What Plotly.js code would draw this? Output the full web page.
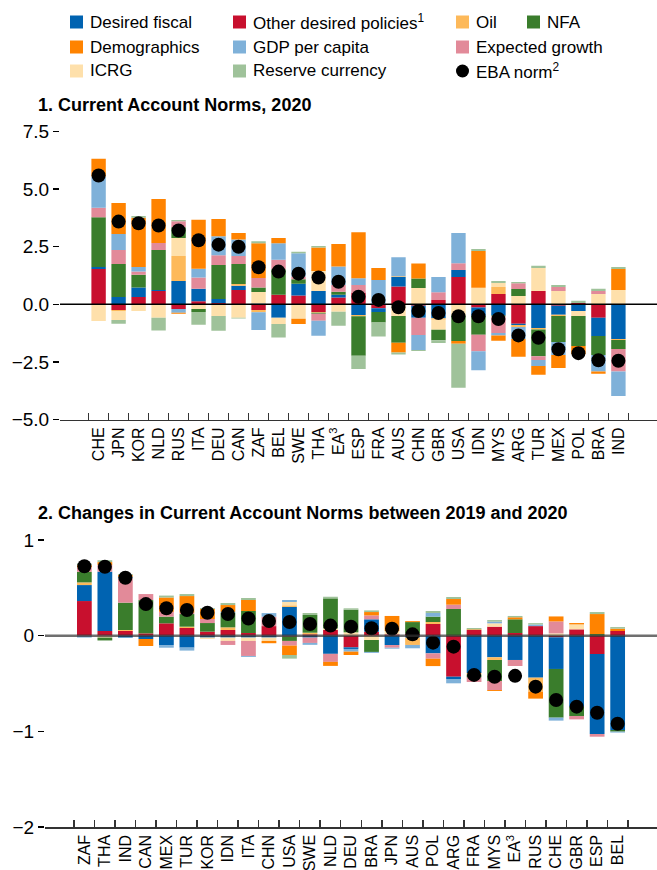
<!DOCTYPE html>
<html>
<head>
<meta charset="utf-8">
<script src="https://cdn.plot.ly/plotly-3.0.1.min.js"></script>
<style>html,body{margin:0;padding:0;background:#fff;}#chart{width:657px;height:870px;}</style>
</head>
<body>
<div id="chart"></div>
<script>
// ---------- Panel 1: Current Account Norms, 2020 ----------
const countries1 = ['CHE','JPN','KOR','NLD','RUS','ITA','DEU','CAN','ZAF','BEL','SWE','THA','EA<sup>3</sup>','ESP','FRA','AUS','CHN','GBR','USA','IDN','MYS','ARG','TUR','MEX','POL','BRA','IND'];
const other1  = [1.53,-0.25,0.32,0.58,-0.20,0.13,0.06,0.62,-0.25,0.41,0.38,-0.33,0.29,0.51,-0.17,0.77,-0.06,0.19,1.19,-0.14,0.45,-0.84,0.58,-0.06,0.06,-0.58,0];
const fiscal1 = [0.09,0.32,0.41,0.04,1.01,0.54,0.17,0.19,0.04,-0.58,0.51,0.58,0.12,-0.46,-0.16,0.41,-0.52,-0.61,0.30,-0.36,-0.49,-0.06,-1.03,-0.39,-0.29,-0.80,-1.51];
const oil1    = [0,-0.04,0,0,1.09,0,0,0.07,-0.09,0,0,-0.04,0,-0.06,0,0.04,0,-0.06,0,0,0.30,-0.09,-0.06,-0.06,0,0,-0.04];
const icrg1   = [-0.72,-0.39,-0.29,-0.58,0.78,-0.20,-0.51,-0.58,0.49,-0.27,-0.63,0.87,-0.32,0,0,-0.51,0.71,-0.43,-0.49,0.72,0.17,0.36,1.00,0.58,-0.22,0.45,0.62];
const nfa1    = [2.16,1.43,0.55,1.74,0.46,-0.13,1.48,0.87,0.20,1.11,0.20,-0.04,0.14,-1.71,-0.46,-1.16,0.41,-0.46,-1.10,-0.82,-0.04,0.30,-1.16,-1.13,-1.30,-0.82,-0.39];
const eg1     = [0.41,0.61,0.14,0.30,0.26,0.49,0.42,0.35,0.41,0.41,0.12,-0.30,0.29,0.33,0,0,-0.75,0.33,0.29,-0.72,-0.72,0.25,-0.17,0.17,0,0.13,-0.98];
const gdp1    = [1.36,0.69,0.20,0,-0.17,0.38,0.82,0.71,-0.78,0.72,1.01,-0.65,0.80,0.29,1.06,0.82,-0.65,0.67,1.32,-0.82,-0.10,-0.52,-0.26,-0.56,0,-0.72,-1.06];
const demo1   = [0.77,1.35,2.14,1.91,-0.04,2.13,0.75,0.29,1.51,0.23,-0.22,1.01,0.98,2.00,0.52,-0.42,0.65,0,-0.12,1.59,-0.23,-0.77,-0.38,-0.56,-0.36,-0.09,0.91];
const res1    = [0,-0.16,0.07,-0.56,0.06,-0.56,-0.64,-0.04,0.09,-0.59,0.06,0.07,-0.61,-0.58,-0.61,-0.09,-0.05,-0.12,-1.91,0.09,0.09,0.06,0.09,0.09,0.09,0.09,0.09];
const eba1    = [5.59,3.59,3.52,3.42,3.20,2.78,2.59,2.50,1.61,1.42,1.33,1.16,0.98,0.33,0.19,-0.13,-0.29,-0.38,-0.52,-0.52,-0.64,-1.35,-1.45,-1.95,-2.12,-2.43,-2.45];

// ---------- Panel 2: Changes between 2019 and 2020 ----------
const countries2 = ['ZAF','THA','IND','CAN','MEX','TUR','KOR','IDN','ITA','CHN','USA','SWE','NLD','DEU','BRA','JPN','AUS','POL','ARG','FRA','MYS','EA<sup>3</sup>','RUS','CHE','GBR','ESP','BEL'];
const other2  = [0.362,0.049,0.049,0.024,0.129,0.08,0.042,0.059,0.028,0.10,-0.01,0.014,0.059,-0.122,0.042,0.014,0.02,0.122,-0.429,0.059,0.094,0.028,0.10,-0.017,0.066,-0.192,0.049];
const fiscal2 = [0.167,0.62,-0.02,-0.035,-0.098,-0.125,-0.02,-0.02,-0.02,-0.02,0.30,-0.02,-0.19,-0.017,0.129,-0.098,-0.02,-0.185,-0.024,-0.39,-0.226,-0.254,-0.439,-0.331,-0.742,-0.836,-0.986];
const oil2    = [0.028,0,0.01,0,0,0.014,0,0.028,0,0,0.017,0.017,0,0,0,0,-0.077,0.021,0,-0.017,-0.028,0,-0.146,0,0,0,0];
const icrg2   = [0,-0.02,0,0,0,0,-0.014,-0.035,-0.035,-0.035,0.035,0,0.017,0.035,-0.045,0.035,0,0,0,0,0.035,0,0,0.024,0.052,0,0];
const nfa2    = [0.111,-0.03,0.286,0.348,0.07,0.132,0.09,0.153,0.23,0,-0.045,0.185,0.314,0.237,-0.125,0,0.122,0.056,0.279,-0.028,-0.22,0.143,0,-0.509,-0.098,0.017,-0.017];
const eg2     = [0.045,0.07,0.254,0.063,0.05,0.014,0.042,-0.042,-0.157,0.098,-0.049,-0.056,-0.084,0,0.041,-0.028,0,-0.056,0.045,-0.049,-0.094,-0.063,0,0.125,-0.035,-0.028,0];
const gdp2    = [-0.02,0,0.017,0,-0.028,-0.031,0,0.01,-0.01,0.038,0.021,-0.02,0,-0.028,-0.01,-0.01,-0.035,0.038,-0.045,0,0.017,0,0.017,-0.031,0,0,-0.01];
const demo2   = [0.024,0.03,0.017,-0.073,0.15,0.174,0.105,0.07,0.115,-0.024,-0.098,0,-0.042,-0.035,0.035,0.157,0.01,-0.077,0.059,0.007,-0.01,0.021,-0.073,0.052,0.014,0.209,0.024];
const res2    = [0.017,0.02,0.01,0,0.02,0.021,0.01,0.021,0.021,0,-0.038,0.021,0.017,0.014,0.017,0,0,0.021,0.021,0.014,0.017,0.014,0.014,0,0,0.021,0.017];
const eba2    = [0.725,0.72,0.606,0.33,0.286,0.268,0.24,0.226,0.18,0.153,0.143,0.122,0.105,0.094,0.077,0.073,0.014,-0.073,-0.115,-0.41,-0.43,-0.42,-0.533,-0.672,-0.742,-0.805,-0.92];

// ---------- Series names & colours ----------
const seriesNames = ['Other desired policies','Desired fiscal','Oil','ICRG','NFA','Expected growth','GDP per capita','Demographics','Reserve currency'];
const seriesColors = ['#c8102e','#0063b1','#fdb95a','#fee0ab','#3a7d2c','#e28a99','#7fb1d9','#ff8300','#9fc29a'];
const panel1 = [other1,fiscal1,oil1,icrg1,nfa1,eg1,gdp1,demo1,res1];
const panel2 = [other2,fiscal2,oil2,icrg2,nfa2,eg2,gdp2,demo2,res2];

const W = 657, H = 870;
const px = x => x / W;
const py = y => 1 - y / H;
const F = 'Liberation Sans, Arial, Helvetica, sans-serif';

const traces = [];
panel1.forEach((vals, i) => traces.push({type:'bar', x:countries1, y:vals, name:seriesNames[i], marker:{color:seriesColors[i], line:{width:0}}, xaxis:'x', yaxis:'y', hoverinfo:'skip'}));
panel2.forEach((vals, i) => traces.push({type:'bar', x:countries2, y:vals, name:seriesNames[i], marker:{color:seriesColors[i], line:{width:0}}, xaxis:'x2', yaxis:'y2', hoverinfo:'skip'}));
traces.push({type:'scatter', mode:'markers', x:countries1, y:eba1, name:'EBA norm', marker:{color:'#000', size:14}, xaxis:'x', yaxis:'y', hoverinfo:'skip'});
traces.push({type:'scatter', mode:'markers', x:countries2, y:eba2, name:'EBA norm', marker:{color:'#000', size:14}, xaxis:'x2', yaxis:'y2', hoverinfo:'skip'});

const xBase = {type:'category', tickangle:-90, tickson:'boundaries', ticks:'inside', ticklen:7, tickwidth:1.5, tickcolor:'#333',
  showline:true, linecolor:'#333', linewidth:1.5, showgrid:false, zeroline:false, tickfont:{size:16, family:F, color:'#000'}};
const yBase = {ticks:'outside', ticklen:6, tickwidth:1.5, tickcolor:'#000', showgrid:false, zeroline:false, showline:false, tickfont:{size:19, family:F, color:'#000'}};

// ---------- Legend (custom) ----------
const legendItems = [
  {t:'Desired fiscal', c:'#0063b1', x:70, y:22},
  {t:'Other desired policies<sup>1</sup>', c:'#c8102e', x:233, y:22},
  {t:'Oil', c:'#fdb95a', x:456, y:22},
  {t:'NFA', c:'#3a7d2c', x:527, y:22},
  {t:'Demographics', c:'#ff8300', x:70, y:47},
  {t:'GDP per capita', c:'#7fb1d9', x:233, y:47},
  {t:'Expected growth', c:'#e28a99', x:456, y:47},
  {t:'ICRG', c:'#fee0ab', x:70, y:71},
  {t:'Reserve currency', c:'#9fc29a', x:233, y:71},
  {t:'EBA norm<sup>2</sup>', c:'#000', x:456, y:71, circle:true}
];
const shapes = [
  {type:'line', xref:'x domain', yref:'y', x0:0, x1:1, y0:0, y1:0, line:{color:'#000', width:1.5}, layer:'above'},
  {type:'line', xref:'x2 domain', yref:'y2', x0:0, x1:1, y0:0, y1:0, line:{color:'rgba(50,50,50,0.7)', width:2.5}, layer:'above'}
];
const annotations = [];
legendItems.forEach(it => {
  shapes.push({type: it.circle ? 'circle' : 'rect', xref:'paper', yref:'paper',
    x0:px(it.x), x1:px(it.x+13), y0:py(it.y+6.5), y1:py(it.y-6.5), fillcolor:it.c, line:{width:0}});
  annotations.push({text:it.t, xref:'paper', yref:'paper', x:px(it.x+18), y:py(it.y), xanchor:'left', yanchor:'middle', showarrow:false, font:{size:17, family:F, color:'#000'}});
});
annotations.push({text:'<b>1. Current Account Norms, 2020</b>', xref:'paper', yref:'paper', x:px(36), y:py(105), xanchor:'left', yanchor:'middle', showarrow:false, font:{size:18, family:F, color:'#000'}});
annotations.push({text:'<b>2. Changes in Current Account Norms between 2019 and 2020</b>', xref:'paper', yref:'paper', x:px(36), y:py(513), xanchor:'left', yanchor:'middle', showarrow:false, font:{size:18, family:F, color:'#000'}});

const layout = {
  width:W, height:H, margin:{l:0, r:0, t:0, b:0}, paper_bgcolor:'#fff', plot_bgcolor:'#fff',
  barmode:'relative', bargap:0.28, showlegend:false, font:{family:F, size:17, color:'#000'},
  xaxis: Object.assign({}, xBase, {domain:[px(60), 1], anchor:'y', categoryorder:'array', categoryarray:countries1}),
  yaxis: Object.assign({}, yBase, {domain:[py(419.5), py(131.5)], range:[-5, 7.5], tickvals:[-5,-2.5,0,2.5,5,7.5], tickformat:'.1f', anchor:'x'}),
  xaxis2: Object.assign({}, xBase, {domain:[px(45), 1], anchor:'y2', categoryorder:'array', categoryarray:countries2}),
  yaxis2: Object.assign({}, yBase, {domain:[py(827), py(540)], range:[-2, 1], tickvals:[-2,-1,0,1], tickformat:'d', anchor:'x2'}),
  shapes: shapes, annotations: annotations
};

Plotly.newPlot('chart', traces, layout, {staticPlot:true, displayModeBar:false});
</script>
</body>
</html>
